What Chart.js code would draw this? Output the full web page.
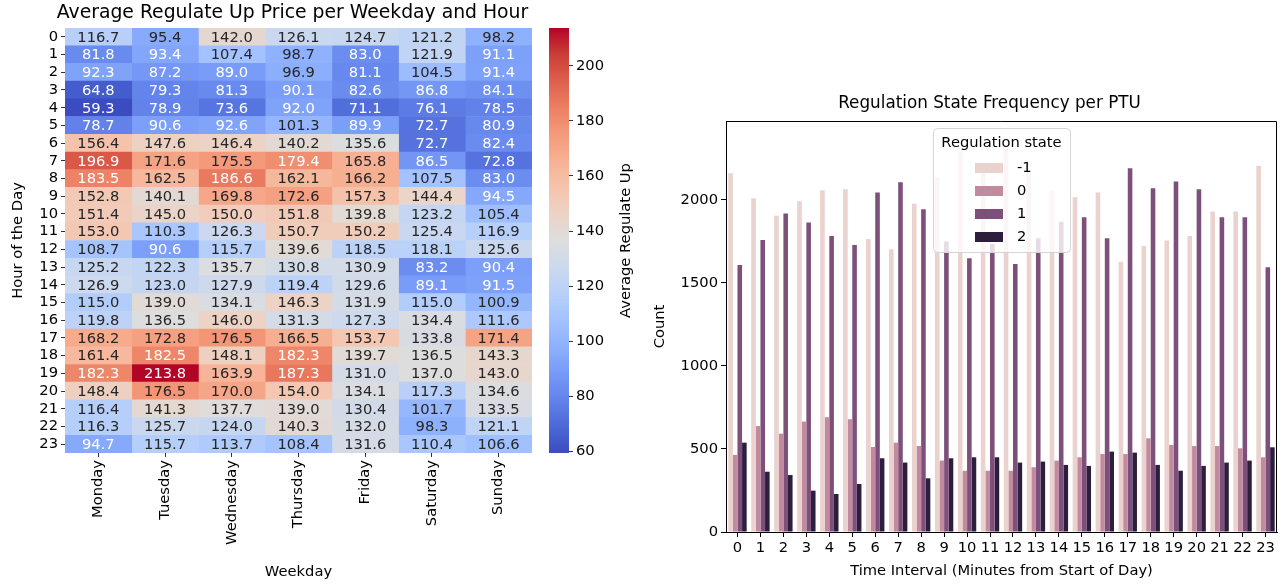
<!DOCTYPE html>
<html>
<head>
<meta charset="utf-8">
<script src="https://cdn.jsdelivr.net/npm/chart.js@4.4.1/dist/chart.umd.min.js"></script>
<style>
  body { margin: 0; background: #fff; width: 1284px; height: 586px; overflow: hidden; position: relative; }
  canvas { position: absolute; top: 0; }
</style>
</head>
<body>
<canvas id="heat" width="545" height="586" style="left:0px"></canvas>
<canvas id="cbar" width="110" height="586" style="left:540px"></canvas>
<canvas id="counts" width="644" height="586" style="left:640px"></canvas>
<script>
// heatmap data: average regulate up price, one array per weekday (hour 0..23)
var weekdays = ["Monday", "Tuesday", "Wednesday", "Thursday", "Friday", "Saturday", "Sunday"];
var hours = ["0","1","2","3","4","5","6","7","8","9","10","11","12","13","14","15","16","17","18","19","20","21","22","23"];
var monday    = [116.7, 81.8, 92.3, 64.8, 59.3, 78.7, 156.4, 196.9, 183.5, 152.8, 151.4, 153.0, 108.7, 125.2, 126.9, 115.0, 119.8, 168.2, 161.4, 182.3, 148.4, 116.4, 116.3, 94.7];
var tuesday   = [95.4, 93.4, 87.2, 79.3, 78.9, 90.6, 147.6, 171.6, 162.5, 140.1, 145.0, 110.3, 90.6, 122.3, 123.0, 139.0, 136.5, 172.8, 182.5, 213.8, 176.5, 141.3, 125.7, 115.7];
var wednesday = [142.0, 107.4, 89.0, 81.3, 73.6, 92.6, 146.4, 175.5, 186.6, 169.8, 150.0, 126.3, 115.7, 135.7, 127.9, 134.1, 146.0, 176.5, 148.1, 163.9, 170.0, 137.7, 124.0, 113.7];
var thursday  = [126.1, 98.7, 96.9, 90.1, 92.0, 101.3, 140.2, 179.4, 162.1, 172.6, 151.8, 150.7, 139.6, 130.8, 119.4, 146.3, 131.3, 166.5, 182.3, 187.3, 154.0, 139.0, 140.3, 108.4];
var friday    = [124.7, 83.0, 81.1, 82.6, 71.1, 89.9, 135.6, 165.8, 166.2, 157.3, 139.8, 150.2, 118.5, 130.9, 129.6, 131.9, 127.3, 153.7, 139.7, 131.0, 134.1, 130.4, 132.0, 131.6];
var saturday  = [121.2, 121.9, 104.5, 86.8, 76.1, 72.7, 72.7, 86.5, 107.5, 144.4, 123.2, 125.4, 118.1, 83.2, 89.1, 115.0, 134.4, 133.8, 136.5, 137.0, 117.3, 101.7, 98.3, 110.4];
var sunday    = [98.2, 91.1, 91.4, 84.1, 78.5, 80.9, 82.4, 72.8, 83.0, 94.5, 105.4, 116.9, 125.6, 90.4, 91.5, 100.9, 111.6, 171.4, 143.3, 143.0, 134.6, 133.5, 121.1, 106.6];
var priceByDay = [monday, tuesday, wednesday, thursday, friday, saturday, sunday];
var cbTicks = [60, 80, 100, 120, 140, 160, 180, 200];

// count plot data: regulation state frequency per interval
var intervals = ["0","1","2","3","4","5","6","7","8","9","10","11","12","13","14","15","16","17","18","19","20","21","22","23"];
var states = ["-1", "0", "1", "2"];
var countNeg1 = [2161, 2010, 1904, 1992, 2058, 2064, 1765, 1703, 1976, 2137, 2290, 2170, 2310, 2165, 2056, 2016, 2044, 1628, 1723, 1755, 1783, 1930, 1930, 2205];
var count0    = [464, 638, 592, 665, 691, 679, 512, 538, 518, 430, 369, 369, 369, 390, 430, 450, 470, 470, 564, 524, 518, 518, 504, 450];
var count1    = [1608, 1759, 1918, 1864, 1783, 1729, 2044, 2106, 1944, 1749, 1649, 1735, 1614, 1769, 1869, 1896, 1769, 2191, 2070, 2110, 2064, 1896, 1896, 1594];
var count2    = [538, 363, 343, 249, 229, 289, 444, 418, 323, 444, 450, 450, 418, 424, 404, 398, 484, 478, 404, 369, 398, 418, 430, 510];
var countTicks = [0, 500, 1000, 1500, 2000];

var stateColors = ["rgb(234,210,206)", "rgb(193,138,159)", "rgb(125,80,123)", "rgb(45,30,61)"];

var FONT = "'DejaVu Sans'";
Chart.defaults.font.family = FONT;
Chart.defaults.font.size = 14.7;
Chart.defaults.color = "#000";

// coolwarm colormap stops
var coolwarm = [[59,76,192],[77,104,215],[98,130,234],[119,154,247],[141,176,254],[163,194,255],[184,208,249],[204,217,238],[221,221,221],[236,211,197],[245,196,173],[247,177,148],[244,154,123],[236,127,99],[222,96,77],[203,62,56],[180,4,38]];
var allPrices = [].concat.apply([], priceByDay);
var vmin = Math.min.apply(null, allPrices);
var vmax = Math.max.apply(null, allPrices);

function cmap(v) {
  var t = Math.max(0, Math.min(1, (v - vmin) / (vmax - vmin)));
  var p = t * (coolwarm.length - 1);
  var i = Math.min(Math.floor(p), coolwarm.length - 2);
  var f = p - i, a = coolwarm[i], b = coolwarm[i + 1];
  return [0, 1, 2].map(function (k) { return Math.round(a[k] + (b[k] - a[k]) * f); });
}
function rgbStr(c) { return "rgb(" + c[0] + "," + c[1] + "," + c[2] + ")"; }
function textColor(v) {
  var lin = cmap(v).map(function (x) { x = x / 255; return x <= 0.03928 ? x / 12.92 : Math.pow((x + 0.055) / 1.055, 2.4); });
  var lum = 0.2126 * lin[0] + 0.7152 * lin[1] + 0.0722 * lin[2];
  return lum > 0.408 ? "rgb(38,38,38)" : "#fff";
}
function drawTitle(chart, text, size, dx, cy) {
  var ctx = chart.ctx, a = chart.chartArea;
  ctx.save();
  ctx.font = size + "px " + FONT;
  ctx.fillStyle = "#000";
  ctx.textAlign = "center";
  ctx.textBaseline = "middle";
  ctx.fillText(text, (a.left + a.right) / 2 + dx, cy);
  ctx.restore();
}

var tickGrid = { drawOnChartArea: false, offset: false, tickLength: 4, tickColor: "#333" };

// heatmap: horizontal stacked bars, one unit cell per weekday
new Chart(document.getElementById("heat"), {
  type: "bar",
  data: {
    labels: hours,
    datasets: priceByDay.map(function (vals, d) {
      return {
        label: weekdays[d],
        data: vals.map(function () { return 1; }),
        backgroundColor: vals.map(function (v) { return rgbStr(cmap(v)); }),
        borderWidth: 0,
        barPercentage: 1,
        categoryPercentage: 1
      };
    })
  },
  options: {
    indexAxis: "y",
    responsive: false,
    animation: false,
    layout: { padding: { right: 13, top: 28 } },
    plugins: { legend: { display: false }, tooltip: { enabled: false } },
    scales: {
      x: { display: false, stacked: true, min: 0, max: 7 },
      y: {
        type: "category",
        stacked: true,
        grid: tickGrid,
        border: { display: false },
        ticks: { autoSkip: false, padding: 3 },
        title: { display: true, text: "Hour of the Day", padding: { top: 9 } },
        afterFit: function (s) { s.width = 65; }
      },
      wd: {
        type: "category",
        axis: "x",
        position: "bottom",
        labels: weekdays,
        offset: true,
        grid: tickGrid,
        border: { display: false },
        ticks: { autoSkip: false, minRotation: 90, maxRotation: 90, padding: 3 },
        title: { display: true, text: "Weekday", padding: { bottom: 5 } },
        afterFit: function (s) { s.height = 133; }
      }
    }
  },
  plugins: [{
    id: "cellText",
    afterDatasetsDraw: function (chart) {
      var ctx = chart.ctx;
      ctx.save();
      ctx.font = "14.7px " + FONT;
      ctx.textAlign = "center";
      ctx.textBaseline = "middle";
      chart.data.datasets.forEach(function (ds, d) {
        chart.getDatasetMeta(d).data.forEach(function (el, i) {
          var v = priceByDay[d][i];
          ctx.fillStyle = textColor(v);
          ctx.fillText(v.toFixed(1), (el.x + el.base) / 2, el.y + 1);
        });
      });
      ctx.restore();
      drawTitle(chart, "Average Regulate Up Price per Weekday and Hour", 18.8, -6, 13);
    }
  }]
});

// colorbar: one floating bar from vmin to vmax with coolwarm gradient
new Chart(document.getElementById("cbar"), {
  type: "bar",
  data: {
    labels: [""],
    datasets: [{
      data: [[vmin, vmax]],
      backgroundColor: function (c) {
        var chart = c.chart;
        if (!chart.chartArea) return null;
        var y = chart.scales.y;
        var g = chart.ctx.createLinearGradient(0, y.getPixelForValue(vmin), 0, y.getPixelForValue(vmax));
        coolwarm.forEach(function (col, i) { g.addColorStop(i / (coolwarm.length - 1), rgbStr(col)); });
        return g;
      },
      borderWidth: 0,
      barPercentage: 1,
      categoryPercentage: 1
    }]
  },
  options: {
    responsive: false,
    animation: false,
    layout: { padding: { left: 9, top: 28, bottom: 133 } },
    plugins: { legend: { display: false }, tooltip: { enabled: false } },
    scales: {
      x: { display: false },
      y: {
        position: "right",
        min: vmin,
        max: vmax,
        afterBuildTicks: function (s) { s.ticks = cbTicks.map(function (v) { return { value: v }; }); },
        grid: { drawOnChartArea: false, tickLength: 4, tickColor: "#333" },
        border: { display: false },
        ticks: { padding: 3 },
        afterFit: function (s) { s.width = 81; }
      }
    }
  },
  plugins: [{
    id: "cbLabel",
    afterDraw: function (chart) {
      var ctx = chart.ctx, a = chart.chartArea;
      ctx.save();
      ctx.translate(86, (a.top + a.bottom) / 2);
      ctx.rotate(-Math.PI / 2);
      ctx.font = "14.7px " + FONT;
      ctx.fillStyle = "#000";
      ctx.textAlign = "center";
      ctx.textBaseline = "middle";
      ctx.fillText("Average Regulate Up", 0, 0);
      ctx.restore();
    }
  }]
});

// count plot
new Chart(document.getElementById("counts"), {
  type: "bar",
  data: {
    labels: intervals,
    datasets: [countNeg1, count0, count1, count2].map(function (d, i) {
      return {
        label: states[i],
        data: d,
        backgroundColor: stateColors[i],
        borderWidth: 0,
        barPercentage: 1,
        categoryPercentage: 0.8
      };
    })
  },
  options: {
    responsive: false,
    animation: false,
    layout: { padding: { right: 7, top: 121 } },
    plugins: { legend: { display: false }, tooltip: { enabled: false } },
    scales: {
      x: {
        grid: { drawOnChartArea: false, offset: false, tickLength: 5, tickColor: "#000" },
        border: { color: "#000" },
        ticks: { autoSkip: false, maxRotation: 0, padding: 2 },
        title: { display: true, text: "Time Interval (Minutes from Start of Day)", padding: { bottom: 6 } },
        afterFit: function (s) { s.height = 54; }
      },
      y: {
        min: 0,
        max: 2475,
        afterBuildTicks: function (s) { s.ticks = countTicks.map(function (v) { return { value: v }; }); },
        grid: { drawOnChartArea: false, tickLength: 5, tickColor: "#000" },
        border: { color: "#000" },
        ticks: { padding: 3, callback: function (v) { return String(v); } },
        title: { display: true, text: "Count", padding: { top: 11 } },
        afterFit: function (s) { s.width = 86; }
      }
    }
  },
  plugins: [{
    id: "frameAndLegend",
    afterDatasetsDraw: function (chart) {
      var ctx = chart.ctx, a = chart.chartArea;
      ctx.save();
      // top and right spines
      ctx.strokeStyle = "#000";
      ctx.lineWidth = 1;
      ctx.beginPath();
      ctx.moveTo(a.left, a.top + 0.5);
      ctx.lineTo(a.right - 0.5, a.top + 0.5);
      ctx.lineTo(a.right - 0.5, a.bottom);
      ctx.stroke();
      // legend box
      var x = a.left + 207, y = a.top + 7, w = 137, h = 124;
      ctx.beginPath();
      ctx.roundRect(x + 0.5, y + 0.5, w, h, 4);
      ctx.fillStyle = "rgba(255,255,255,0.8)";
      ctx.fill();
      ctx.strokeStyle = "#d4d4d4";
      ctx.stroke();
      ctx.font = "14.7px " + FONT;
      ctx.textBaseline = "middle";
      ctx.textAlign = "center";
      ctx.fillStyle = "#000";
      ctx.fillText("Regulation state", x + w / 2, y + 15);
      ctx.textAlign = "left";
      chart.data.datasets.forEach(function (ds, i) {
        var ry = y + 40 + i * 23;
        ctx.fillStyle = ds.backgroundColor;
        ctx.fillRect(x + 42, ry - 5, 28, 10);
        ctx.fillStyle = "#000";
        ctx.fillText(ds.label, x + 84, ry);
      });
      ctx.restore();
      drawTitle(chart, "Regulation State Frequency per PTU", 16.8, -12, 104);
    }
  }]
});
</script>
</body>
</html>
